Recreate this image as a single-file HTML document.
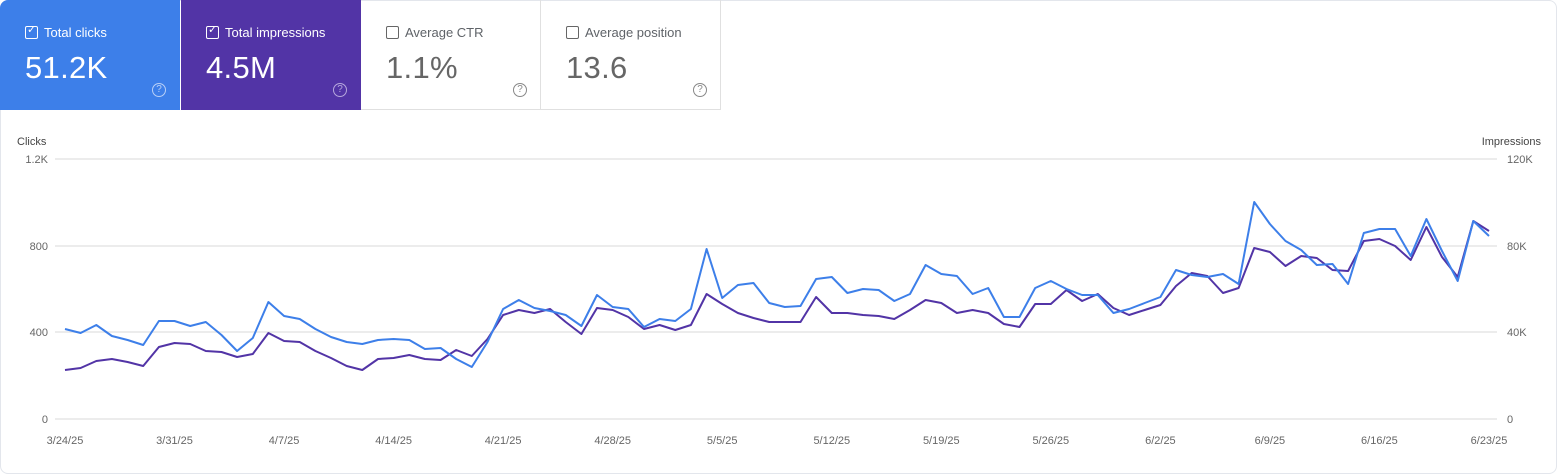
<!DOCTYPE html>
<html><head><meta charset="utf-8"><style>
body{margin:0;width:1557px;height:474px;background:#fff;font-family:"Liberation Sans",Arial,sans-serif;overflow:hidden;position:relative}
.frame{position:absolute;left:0;top:0;width:1555px;height:472px;border:1px solid #e3e6ec;border-radius:8px}
.card{position:absolute;top:0;height:110px;width:180px;box-sizing:border-box}
.lbl{position:absolute;left:44px;top:25px;font-size:13px}
.cb{position:absolute;left:25px;top:26px;width:11px;height:11px;border:1px solid;border-radius:2px}
.val{position:absolute;left:25px;top:50px;font-size:31px;letter-spacing:0.3px}
.help{position:absolute;left:152px;top:83px;width:12px;height:12px;border:1.3px solid;border-radius:50%;font-size:10px;text-align:center;line-height:12px}
</style></head><body>
<div class="frame"></div>
<div class="card" style="left:0;background:#3d7fe9;color:#fff;border-top-left-radius:8px"><div class="cb" style="border-color:#fff"></div><span style="position:absolute;left:27px;top:23px;font-size:11px">✓</span><div class="lbl">Total clicks</div><div class="val">51.2K</div><div class="help" style="border-color:#b9d0f7;color:#b9d0f7">?</div></div>
<div class="card" style="left:181px;background:#5234a6;color:#fff"><div class="cb" style="border-color:#fff"></div><span style="position:absolute;left:27px;top:23px;font-size:11px">✓</span><div class="lbl">Total impressions</div><div class="val">4.5M</div><div class="help" style="border-color:#b7a8dd;color:#b7a8dd">?</div></div>
<div class="card" style="left:361px;border-right:1px solid #e0e0e0;border-bottom:1px solid #e0e0e0;color:#5f6368"><div class="cb" style="border-color:#666"></div><div class="lbl">Average CTR</div><div class="val" style="color:#666">1.1%</div><div class="help" style="border-color:#888;color:#888">?</div></div>
<div class="card" style="left:541px;border-right:1px solid #e0e0e0;border-bottom:1px solid #e0e0e0;color:#5f6368"><div class="cb" style="border-color:#666"></div><div class="lbl">Average position</div><div class="val" style="color:#666">13.6</div><div class="help" style="border-color:#888;color:#888">?</div></div>
<svg id="s" width="1557" height="474" style="position:absolute;left:0;top:0" font-family="Liberation Sans, Arial, sans-serif" font-size="11" fill="#666">
<text x="17" y="145" fill="#444">Clicks</text>
<text x="1541" y="145" text-anchor="end" fill="#444">Impressions</text>
<g stroke="#ececec" stroke-width="2"><line x1="55" x2="1497" y1="159" y2="159"/><line x1="55" x2="1497" y1="246" y2="246"/><line x1="55" x2="1497" y1="332" y2="332"/><line x1="55" x2="1497" y1="419" y2="419"/></g>
<g text-anchor="end"><text x="48" y="163">1.2K</text><text x="48" y="250">800</text><text x="48" y="336">400</text><text x="48" y="423">0</text></g>
<g><text x="1507" y="163">120K</text><text x="1507" y="250">80K</text><text x="1507" y="336">40K</text><text x="1507" y="423">0</text></g>
<g id="dates" text-anchor="middle"></g>
<polyline id="pp" fill="none" stroke="#5234a6" stroke-width="2" stroke-linejoin="round"/>
<polyline id="bp" fill="none" stroke="#3d7fe9" stroke-width="2" stroke-linejoin="round"/>
</svg>
<script>
var blue=[329,333,325,336,340,345,321,321,326,322,335,351,338,302,316,319,329,337,342,344,340,339,340,349,348,359,367,342,309,300,308,311,315,326,295,307,309,327,319,321,309,249,298,285,283,303,307,306,279,277,293,289,290,301,294,265,274,276,294,288,317,317,288,281,289,295,295,313,309,303,297,270,275,277,274,284,202,224,241,250,265,264,284,233,229,229,256,219,251,281,221,236];
var purp=[370,368,361,359,362,366,347,343,344,351,352,357,354,333,341,342,351,358,366,370,359,358,355,359,360,350,356,339,315,310,313,309,322,334,308,310,317,329,325,330,325,294,304,313,318,322,322,322,297,313,313,315,316,319,310,300,303,313,310,313,324,327,304,304,290,301,294,308,315,310,305,286,273,276,293,288,248,252,266,256,258,270,271,241,239,246,260,227,257,277,221,231];
function pts(a){return a.map(function(y,i){return (65+i*15.648).toFixed(1)+","+y}).join(" ")}
document.getElementById("bp").setAttribute("points",pts(blue));
document.getElementById("pp").setAttribute("points",pts(purp));
var d=["3/24/25","3/31/25","4/7/25","4/14/25","4/21/25","4/28/25","5/5/25","5/12/25","5/19/25","5/26/25","6/2/25","6/9/25","6/16/25","6/23/25"],g=document.getElementById("dates"),h="";
d.forEach(function(t,i){h+='<text x="'+(65+i*7*15.648).toFixed(1)+'" y="444">'+t+'</text>'});g.innerHTML=h;
</script>
</body></html>
